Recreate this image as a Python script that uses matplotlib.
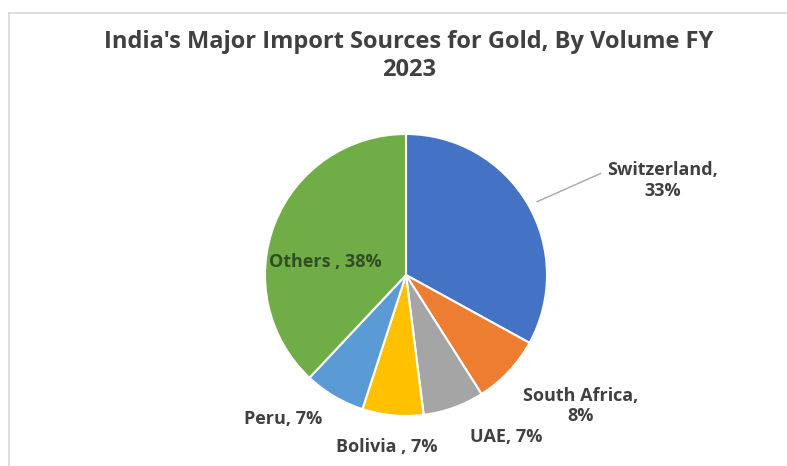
import matplotlib.pyplot as plt
from matplotlib.lines import Line2D

countries = ['Switzerland', 'South Africa', 'UAE', 'Bolivia', 'Peru', 'Others']
shares = [33, 8, 7, 7, 7, 38]
labels = ['Switzerland,\n33%', 'South Africa,\n8%', 'UAE, 7%', 'Bolivia , 7%', 'Peru, 7%', 'Others , 38%']
colors = ['#4472C4', '#ED7D31', '#A5A5A5', '#FFC000', '#5B9BD5', '#70AD47']

# label positions in pie units (radius = 1)
label_pos = [(1.82, 0.67), (1.24, -0.93), (0.71, -1.15), (-0.14, -1.22), (-0.87, -1.02), (-0.57, 0.09)]
label_col = ['#404040'] * 5 + ['#2f4f22']

plt.rcParams['font.family'] = ['Open Sans', 'DejaVu Sans']

W, H = 787, 466
fig = plt.figure(figsize=(W / 100, H / 100), dpi=100)

# pie centre (406, 275) px, radius 141 px
cx, cy, r = 406, 275, 141
ax = fig.add_axes([(cx - r) / W, (H - cy - r) / H, 2 * r / W, 2 * r / H])
ax.pie(shares, colors=colors, startangle=90, counterclock=False, radius=1,
       wedgeprops=dict(edgecolor='white', linewidth=1.5))
ax.set_xlim(-1, 1)
ax.set_ylim(-1, 1)
ax.set_aspect('equal')
ax.axis('off')

for lab, (x, y), c in zip(labels, label_pos, label_col):
    ax.text(x, y, lab, ha='center', va='center', fontsize=13, fontweight='bold',
            color=c, linespacing=1.15, clip_on=False)

# leader line for Switzerland
ax.add_line(Line2D([0.93, 1.38], [0.52, 0.72], color='#a6a6a6', lw=1, clip_on=False))

fig.text(409 / W, 1 - 56 / H, "India's Major Import Sources for Gold, By Volume FY\n2023",
         ha='center', va='center', fontsize=17, fontweight='bold', color='#404040',
         linespacing=1.2)

# chart frame
fig.add_artist(Line2D([9 / W, 9 / W], [0, 1 - 13 / H], color='#d9d9d9', lw=1.2))
fig.add_artist(Line2D([9 / W, 1], [1 - 13 / H, 1 - 13 / H], color='#d9d9d9', lw=1.2))

fig.savefig('out.png', dpi=100)
